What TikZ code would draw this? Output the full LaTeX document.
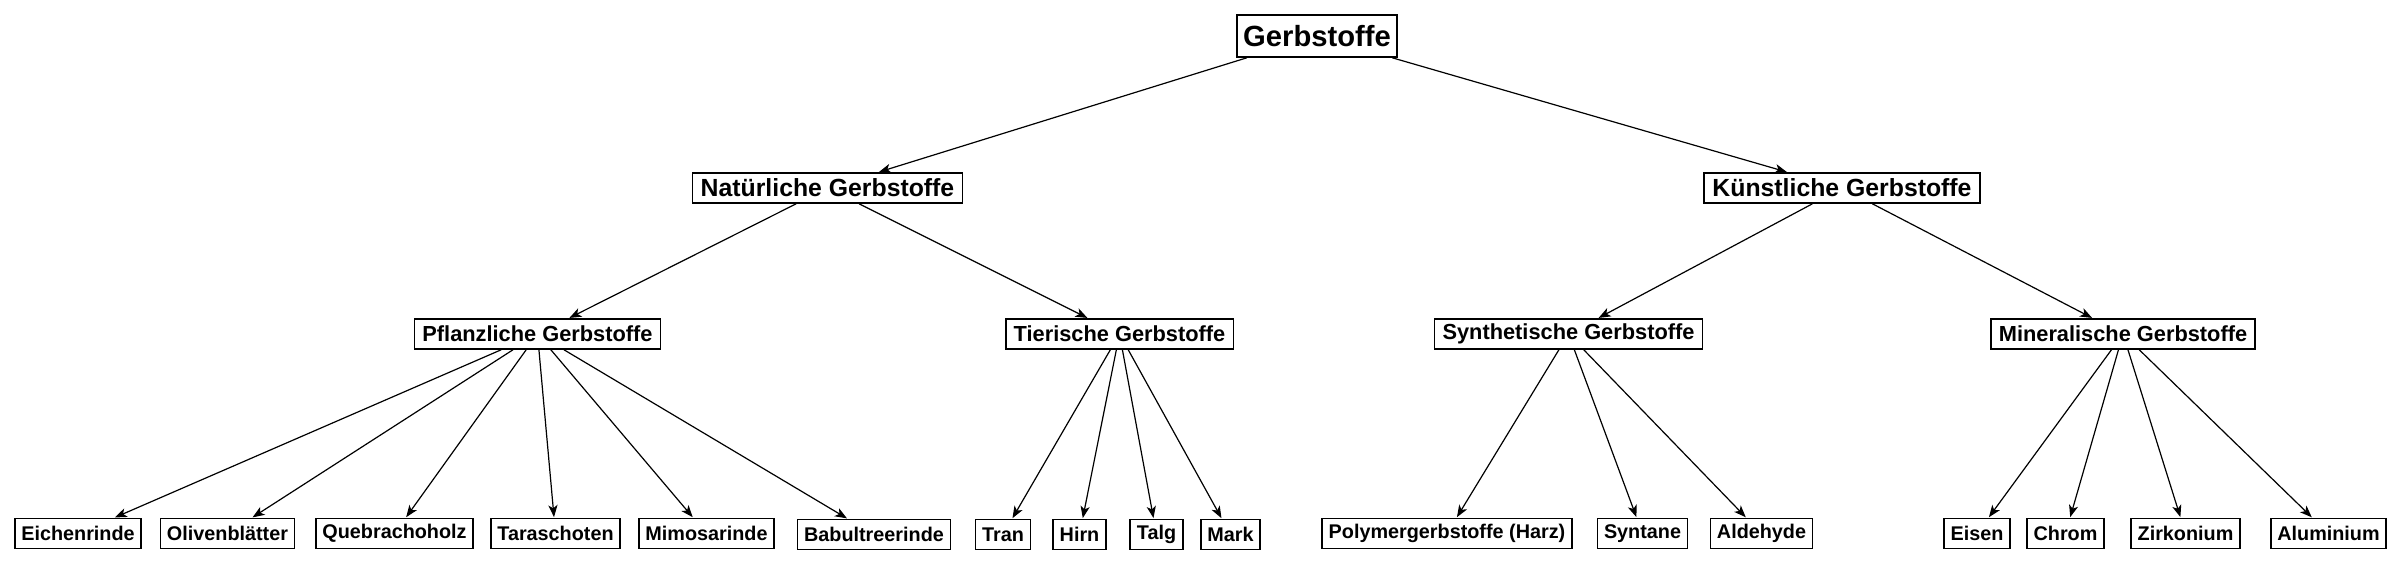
\documentclass[tikz,border=0pt]{standalone}
\usepackage{fontspec}
\setmainfont{Liberation Sans}
\usetikzlibrary{arrows.meta}
\tikzset{
  box/.style={draw=black, line width=0.8pt, fill=white, inner xsep=3.5pt, inner ysep=0pt, font=\bfseries, anchor=center},
  rootbox/.style={box, minimum height=21pt, font=\fontsize{14.6}{16}\selectfont\bfseries, inner xsep=3pt},
  lvtwo/.style={box, minimum height=15pt, font=\fontsize{12.4}{14}\selectfont\bfseries, inner xsep=4.2pt},
  lvthree/.style={box, minimum height=15pt, font=\fontsize{10.9}{13}\selectfont\bfseries, inner xsep=4pt},
  leaf/.style={box, minimum height=15pt, font=\fontsize{9.9}{12}\selectfont\bfseries, inner xsep=3.3pt},
  edge/.style={draw=black, line width=0.6pt, -{Stealth[length=6pt,width=4.6pt,inset=1.6pt]}, shorten >=0.3pt}
}
\begin{document}
\begin{tikzpicture}[x=0.5pt,y=-0.5pt]
\useasboundingbox[fill=white] (0,0) rectangle (2400,566);
% root
\node[rootbox] (root) at (1317,36) {Gerbstoffe};
% level 2
\node[lvtwo] (nat) at (827.5,188) {Natürliche Gerbstoffe};
\node[lvtwo] (kun) at (1842,188) {Künstliche Gerbstoffe};
% level 3
\node[lvthree] (pfl) at (537.5,334) {Pflanzliche Gerbstoffe};
\node[lvthree] (tie) at (1119.5,334) {Tierische Gerbstoffe};
\node[lvthree] (syn) at (1568.5,334) {Synthetische Gerbstoffe};
\node[lvthree] (min) at (2123,334) {Mineralische Gerbstoffe};
% leaves
\node[leaf] (eich) at (78,533.5) {Eichenrinde};
\node[leaf] (oliv) at (227.5,533.5) {Olivenblätter};
\node[leaf] (queb) at (394.5,533.5) {Quebrachoholz};
\node[leaf] (tara) at (555.5,533.5) {Taraschoten};
\node[leaf] (mimo) at (706.5,533.5) {Mimosarinde};
\node[leaf] (babu) at (874,534.5) {Babultreerinde};
\node[leaf] (tran) at (1003,534.5) {Tran};
\node[leaf] (hirn) at (1079.5,534.5) {Hirn};
\node[leaf] (talg) at (1156.5,534.5) {Talg};
\node[leaf] (mark) at (1230.5,534.5) {Mark};
\node[leaf] (poly) at (1447,533.5) {Polymergerbstoffe (Harz)};
\node[leaf] (synt) at (1642.5,533.5) {Syntane};
\node[leaf] (alde) at (1761.5,533.5) {Aldehyde};
\node[leaf] (eise) at (1977,533.5) {Eisen};
\node[leaf] (chro) at (2065.5,533.5) {Chrom};
\node[leaf] (zirk) at (2185.5,533.5) {Zirkonium};
\node[leaf] (alum) at (2328.5,533.5) {Aluminium};
% edges
\draw[edge] (root) -- (nat);
\draw[edge] (root) -- (kun);
\draw[edge] (nat) -- (pfl);
\draw[edge] (nat) -- (tie);
\draw[edge] (kun) -- (syn);
\draw[edge] (kun) -- (min);
\foreach \c in {eich,oliv,queb,tara,mimo,babu} \draw[edge] (pfl) -- (\c);
\foreach \c in {tran,hirn,talg,mark} \draw[edge] (tie) -- (\c);
\foreach \c in {poly,synt,alde} \draw[edge] (syn) -- (\c);
\foreach \c in {eise,chro,zirk,alum} \draw[edge] (min) -- (\c);
\end{tikzpicture}
\end{document}
